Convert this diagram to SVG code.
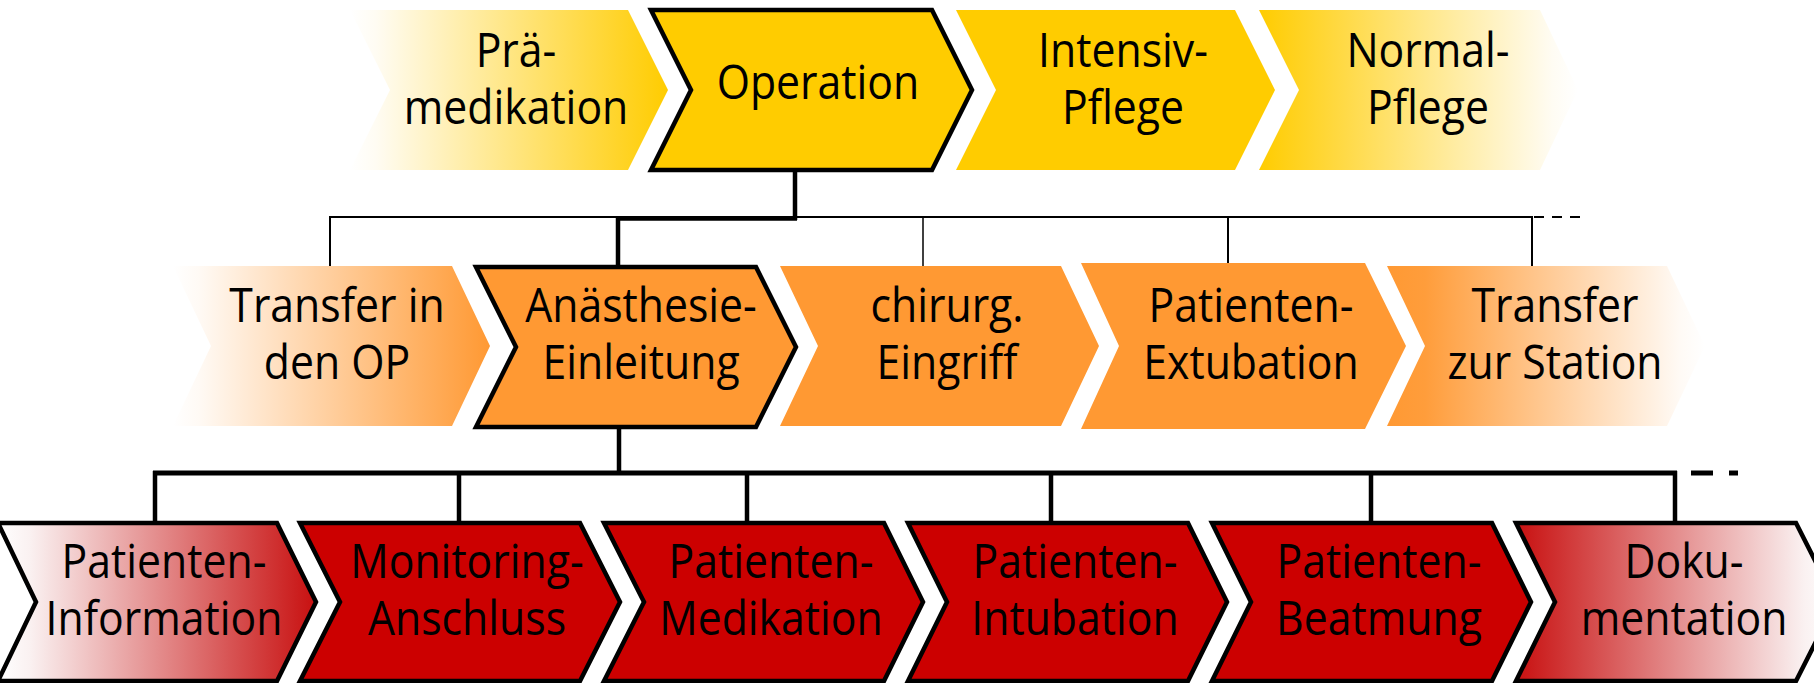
<svg xmlns="http://www.w3.org/2000/svg" width="1814" height="683" viewBox="0 0 1814 683">
<defs>
<linearGradient id="gYin" x1="0" y1="0" x2="1" y2="0"><stop offset="0" stop-color="#FFFFFF"/><stop offset="0.08" stop-color="#FFFCF3"/><stop offset="1" stop-color="#FFCC00"/></linearGradient>
<linearGradient id="gYout" x1="0" y1="0" x2="1" y2="0"><stop offset="0" stop-color="#FFCC00"/><stop offset="0.92" stop-color="#FFFCF3"/><stop offset="1" stop-color="#FFFFFF"/></linearGradient>
<linearGradient id="gOin" x1="0" y1="0" x2="1" y2="0"><stop offset="0" stop-color="#FFFFFF"/><stop offset="0.08" stop-color="#FFFAF5"/><stop offset="1" stop-color="#FF9933"/></linearGradient>
<linearGradient id="gOout" x1="0" y1="0" x2="1" y2="0"><stop offset="0" stop-color="#FF9933"/><stop offset="0.12" stop-color="#FF9D3B"/><stop offset="0.92" stop-color="#FFFAF5"/><stop offset="1" stop-color="#FFFFFF"/></linearGradient>
<linearGradient id="gRin" x1="0" y1="0" x2="1" y2="0"><stop offset="0" stop-color="#FFFFFF"/><stop offset="0.1" stop-color="#FAF1F1"/><stop offset="1" stop-color="#C81010"/></linearGradient>
<linearGradient id="gRout" x1="0" y1="0" x2="1" y2="0"><stop offset="0" stop-color="#C81010"/><stop offset="0.9" stop-color="#FAF1F1"/><stop offset="1" stop-color="#FFFFFF"/></linearGradient>
</defs>
<style>
text{font-family:"Open Sans","Noto Sans","Liberation Sans",sans-serif;font-size:47.5px;fill:#000;text-anchor:middle}
.y{fill:#FFCC00}
.o{fill:#FF9933}
.r{fill:#CC0000}
.bd{stroke:#000;stroke-width:4.5;stroke-linejoin:miter}
.c{stroke:#000;fill:none}
.thin{stroke-width:2}
.thick{stroke-width:4.5}
</style>

<g id="connectors">
  <line class="c thick" x1="795" y1="172" x2="795" y2="220"/>
  <line class="c thin" x1="330" y1="217" x2="1533" y2="217"/>
  <line class="c thick" x1="616" y1="218.5" x2="797" y2="218.5"/>
  <line class="c thin" x1="330" y1="216" x2="330" y2="266"/>
  <line class="c thick" x1="618" y1="218" x2="618" y2="266"/>
  <line class="c" stroke-width="1.5" stroke="#444" x1="923" y1="217" x2="923" y2="266"/>
  <line class="c thin" x1="1228" y1="217" x2="1228" y2="263"/>
  <line class="c thin" x1="1532" y1="216" x2="1532" y2="266"/>
  <line class="c thin" x1="1534" y1="217" x2="1580" y2="217" stroke-dasharray="10 8"/>
  <line class="c thick" x1="619" y1="428" x2="619" y2="474"/>
  <line class="c" stroke-width="5" x1="153" y1="473" x2="1677" y2="473"/>
  <line class="c thick" x1="155" y1="471" x2="155" y2="522"/>
  <line class="c thick" x1="459" y1="473" x2="459" y2="522"/>
  <line class="c thick" x1="747" y1="473" x2="747" y2="522"/>
  <line class="c thick" x1="1051" y1="473" x2="1051" y2="522"/>
  <line class="c thick" x1="1371" y1="473" x2="1371" y2="522"/>
  <line class="c thick" x1="1675" y1="471" x2="1675" y2="522"/>
  <line class="c" stroke-width="5" x1="1691" y1="473" x2="1713" y2="473"/>
  <line class="c" stroke-width="5" x1="1729" y1="473" x2="1738" y2="473"/>
</g>

<g id="n-praemedikation">
  <path fill="url(#gYin)" d="M350,10 L628,10 L668,90 L628,170 L350,170 L390,90 Z"/>
  <text transform="matrix(0.9 0 0 1 516 0)"><tspan x="0" y="67">Prä-</tspan><tspan x="0" y="124">medikation</tspan></text>
</g>
<g id="n-operation">
  <path class="y bd" d="M651,10 L932,10 L972,90 L932,170 L651,170 L691,90 Z"/>
  <text transform="matrix(0.9 0 0 1 818 0)" x="0" y="99">Operation</text>
</g>
<g id="n-intensivpflege">
  <path class="y" d="M956,10 L1235,10 L1275,90 L1235,170 L956,170 L996,90 Z"/>
  <text transform="matrix(0.9 0 0 1 1123 0)"><tspan x="0" y="67">Intensiv-</tspan><tspan x="0" y="124">Pflege</tspan></text>
</g>
<g id="n-normalpflege">
  <path fill="url(#gYout)" d="M1259,10 L1540,10 L1578,90 L1540,170 L1259,170 L1299,90 Z"/>
  <text transform="matrix(0.9 0 0 1 1428 0)"><tspan x="0" y="67">Normal-</tspan><tspan x="0" y="124">Pflege</tspan></text>
</g>

<g id="n-transfer-op">
  <path fill="url(#gOin)" d="M173,266 L452,266 L490,346 L452,426 L173,426 L211,346 Z"/>
  <text transform="matrix(0.9 0 0 1 337 0)"><tspan x="0" y="322">Transfer in</tspan><tspan x="0" y="379">den OP</tspan></text>
</g>
<g id="n-anaesthesie">
  <path class="o bd" d="M476,267 L756,267 L796,347 L756,427 L476,427 L516,347 Z"/>
  <text transform="matrix(0.9 0 0 1 641 0)"><tspan x="0" y="322">Anästhesie-</tspan><tspan x="0" y="379">Einleitung</tspan></text>
</g>
<g id="n-chirurg">
  <path class="o" d="M780,266 L1061,266 L1099,346 L1061,426 L780,426 L818,346 Z"/>
  <text transform="matrix(0.9 0 0 1 947 0)"><tspan x="0" y="322">chirurg.</tspan><tspan x="0" y="379">Eingriff</tspan></text>
</g>
<g id="n-extubation">
  <path class="o" d="M1081,263 L1365,263 L1406,346 L1365,429 L1081,429 L1119,346 Z"/>
  <text transform="matrix(0.9 0 0 1 1251 0)"><tspan x="0" y="322">Patienten-</tspan><tspan x="0" y="379">Extubation</tspan></text>
</g>
<g id="n-transfer-station">
  <path fill="url(#gOout)" d="M1387,266 L1667,266 L1705,346 L1667,426 L1387,426 L1425,346 Z"/>
  <text transform="matrix(0.9 0 0 1 1555 0)"><tspan x="0" y="322">Transfer</tspan><tspan x="0" y="379">zur Station</tspan></text>
</g>

<g id="n-information">
  <path class="bd" fill="url(#gRin)" d="M-2,523 L277,523 L316,602 L277,681 L-2,681 L36,602 Z"/>
  <text transform="matrix(0.9 0 0 1 164 0)"><tspan x="0" y="578">Patienten-</tspan><tspan x="0" y="635">Information</tspan></text>
</g>
<g id="n-monitoring">
  <path class="r bd" d="M300,523 L580,523 L620,602 L580,681 L300,681 L340,602 Z"/>
  <text transform="matrix(0.9 0 0 1 467 0)"><tspan x="0" y="578">Monitoring-</tspan><tspan x="0" y="635">Anschluss</tspan></text>
</g>
<g id="n-medikation">
  <path class="r bd" d="M604,523 L884,523 L923,602 L884,681 L604,681 L644,602 Z"/>
  <text transform="matrix(0.9 0 0 1 771 0)"><tspan x="0" y="578">Patienten-</tspan><tspan x="0" y="635">Medikation</tspan></text>
</g>
<g id="n-intubation">
  <path class="r bd" d="M908,523 L1188,523 L1227,602 L1188,681 L908,681 L947,602 Z"/>
  <text transform="matrix(0.9 0 0 1 1075 0)"><tspan x="0" y="578">Patienten-</tspan><tspan x="0" y="635">Intubation</tspan></text>
</g>
<g id="n-beatmung">
  <path class="r bd" d="M1212,523 L1492,523 L1531,602 L1492,681 L1212,681 L1251,602 Z"/>
  <text transform="matrix(0.9 0 0 1 1379 0)"><tspan x="0" y="578">Patienten-</tspan><tspan x="0" y="635">Beatmung</tspan></text>
</g>
<g id="n-dokumentation">
  <path class="bd" fill="url(#gRout)" d="M1516,523 L1796,523 L1836,602 L1796,681 L1516,681 L1555,602 Z"/>
  <text transform="matrix(0.9 0 0 1 1684 0)"><tspan x="0" y="578">Doku-</tspan><tspan x="0" y="635">mentation</tspan></text>
</g>
</svg>
